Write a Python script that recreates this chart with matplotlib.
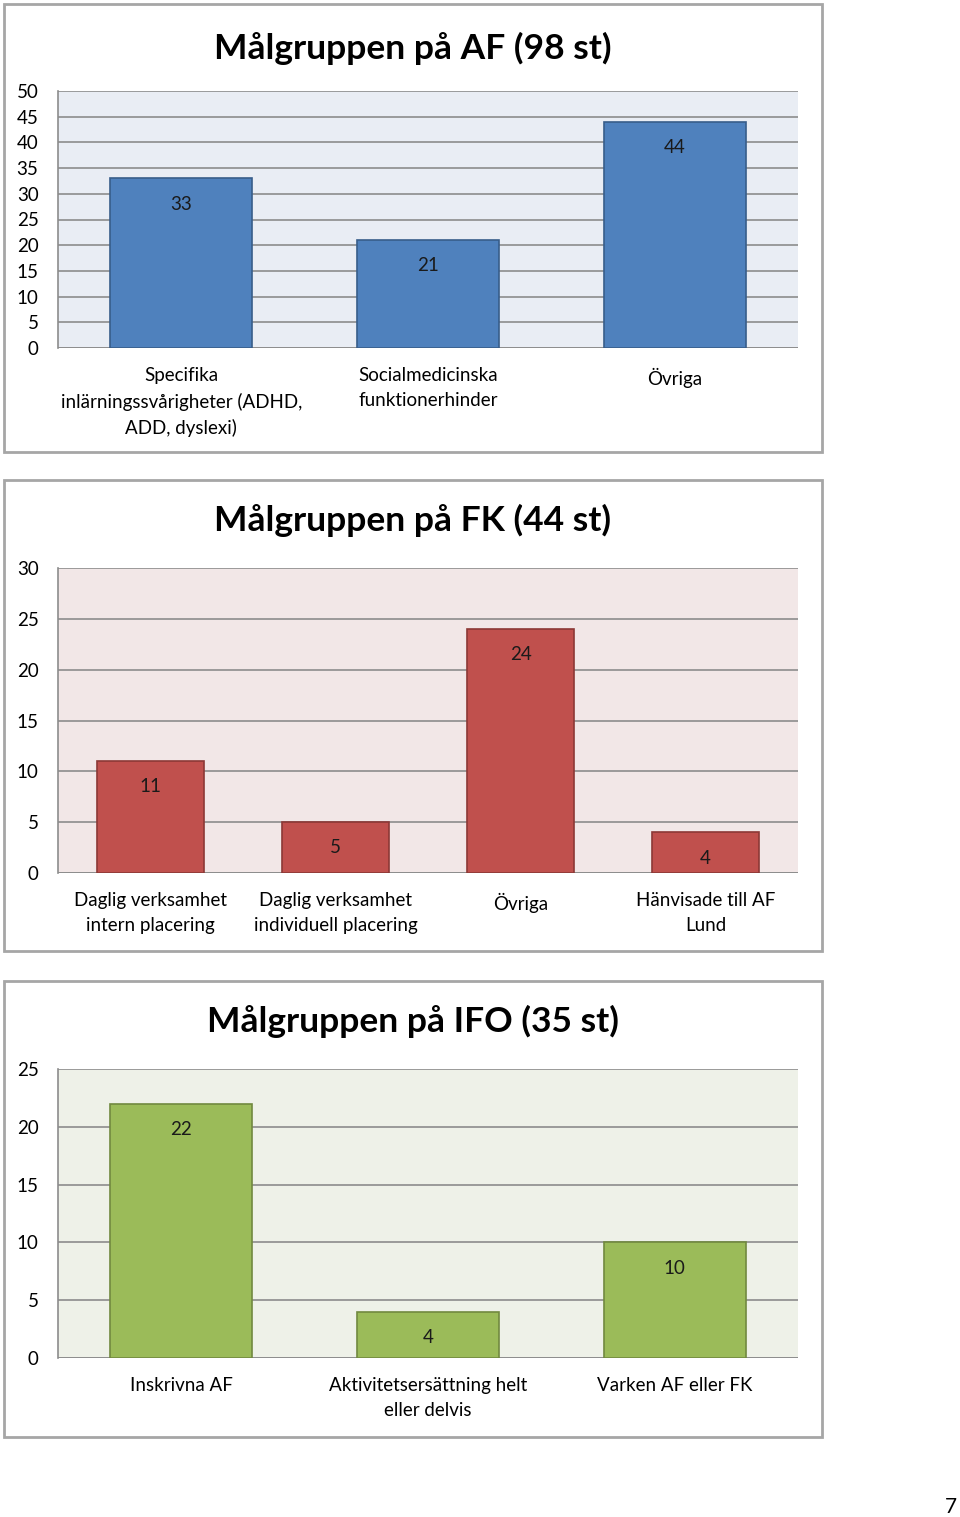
import matplotlib
matplotlib.use('Agg')
import matplotlib.pyplot as plt
from matplotlib.patches import Rectangle

plt.rcParams['font.family'] = ['Lato', 'DejaVu Sans']

W, H = 960, 1517

# chart 1 - AF
af_title = 'Målgruppen på AF (98 st)'
af_cats = ['Specifika\ninlärningssvårigheter (ADHD,\nADD, dyslexi)',
           'Socialmedicinska\nfunktionerhinder', 'Övriga']
af_vals = [33, 21, 44]
af_ticks = [0, 5, 10, 15, 20, 25, 30, 35, 40, 45, 50]

# chart 2 - FK
fk_title = 'Målgruppen på FK (44 st)'
fk_cats = ['Daglig verksamhet\nintern placering', 'Daglig verksamhet\nindividuell placering',
           'Övriga', 'Hänvisade till AF\nLund']
fk_vals = [11, 5, 24, 4]
fk_ticks = [0, 5, 10, 15, 20, 25, 30]

# chart 3 - IFO
ifo_title = 'Målgruppen på IFO (35 st)'
ifo_cats = ['Inskrivna AF', 'Aktivitetsersättning helt\neller delvis', 'Varken AF eller FK']
ifo_vals = [22, 4, 10]
ifo_ticks = [0, 5, 10, 15, 20, 25]

fig = plt.figure(figsize=(W / 100, H / 100), dpi=100)


def px_box(x0, y0, x1, y1):
  return [x0 / W, 1 - y1 / H, (x1 - x0) / W, (y1 - y0) / H]


def panel(box, plot_box, title, title_y, cats, vals, ticks, face, edge, bg):
  # outer chart frame
  fx = px_box(*box)
  fig.patches.append(Rectangle((fx[0], fx[1]), fx[2], fx[3], transform=fig.transFigure,
                               facecolor='none', edgecolor='#A6A6A6', linewidth=2, zorder=5))
  fig.text((box[0] + box[2]) / 2 / W, 1 - title_y / H, title, ha='center', va='center',
           fontsize=25.5, fontweight='bold', color='black')
  ax = fig.add_axes(px_box(*plot_box))
  ax.set_facecolor(bg)
  x = range(len(vals))
  ax.bar(x, vals, width=0.575, color=face, edgecolor=edge, linewidth=1.2, zorder=3)
  for i, v in enumerate(vals):
    ax.annotate(str(v), (i, v), xytext=(0, -18.5), textcoords='offset points',
                ha='center', va='center', fontsize=13.5, color='#1a1a1a', zorder=4)
  ax.set_xlim(-0.5, len(vals) - 0.5)
  ax.set_ylim(ticks[0], ticks[-1])
  ax.set_yticks(ticks)
  ax.set_xticks(list(x))
  ax.set_xticklabels(cats, fontsize=13.5, linespacing=1.55)
  ax.tick_params(axis='x', length=0, pad=14)
  ax.tick_params(axis='y', length=0, pad=14, labelsize=13.5)
  ax.grid(axis='y', color='#8C8C8C', linewidth=1.2, zorder=1)
  ax.set_axisbelow(True)
  for s in ['top', 'right', 'bottom']:
    ax.spines[s].set_visible(False)
  ax.spines['left'].set_color('#8C8C8C')
  ax.spines['left'].set_linewidth(1.2)
  ax.axhline(ticks[0], color='#8C8C8C', linewidth=1.2, zorder=2)
  return ax


panel((4, 4, 822, 452), (58, 91, 798, 348), af_title, 48, af_cats, af_vals, af_ticks,
      '#4F81BD', '#385D8A', '#E9EDF4')
panel((4, 480, 822, 951), (58, 568, 798, 873), fk_title, 520, fk_cats, fk_vals, fk_ticks,
      '#C0504D', '#8C3836', '#F2E7E7')
panel((4, 981, 822, 1437), (58, 1069, 798, 1358), ifo_title, 1021, ifo_cats, ifo_vals, ifo_ticks,
      '#9BBB59', '#71893F', '#EEF1E8')

fig.text(951 / W, 1 - 1507 / H, '7', ha='center', va='center', fontsize=15, color='black')

fig.savefig('out.png', dpi=100)
